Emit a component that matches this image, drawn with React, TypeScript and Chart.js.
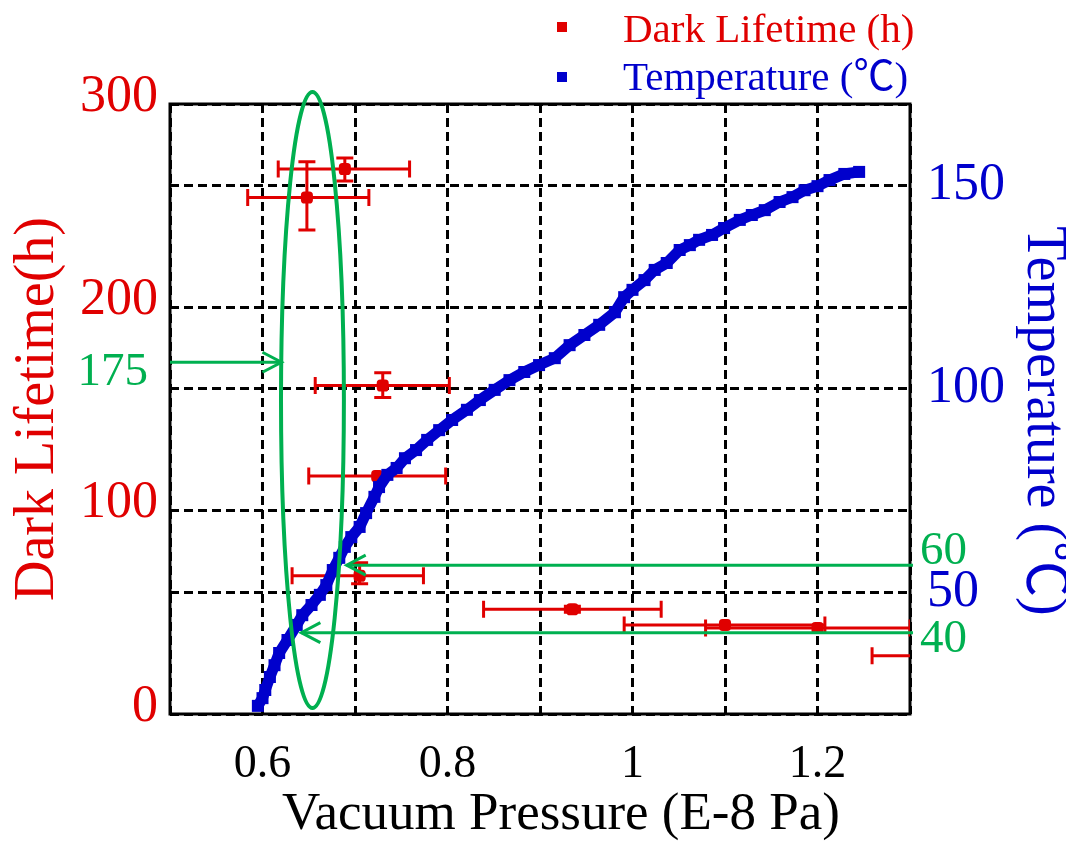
import React, { useEffect, useRef } from 'react';
import { Chart, registerables } from 'chart.js';

Chart.register(...registerables);

const RED = '#e00000';
const BLUE = '#0000cc';
const GREEN = '#00b050';
const FONT = "'Liberation Serif', 'Times New Roman', 'Noto Sans CJK SC', serif";

// ---- Temperature series (pressure in E-8 Pa, temperature in °C) ----
const tempPressure = [
  0.595, 0.600, 0.603, 0.608, 0.613, 0.618, 0.627, 0.637, 0.643, 0.653,
  0.662, 0.669, 0.676, 0.683, 0.689, 0.696, 0.705, 0.712, 0.721, 0.726,
  0.735, 0.745, 0.754, 0.766, 0.778, 0.791, 0.805, 0.821, 0.835, 0.851,
  0.867, 0.883, 0.899, 0.916, 0.932, 0.948, 0.964, 0.981, 0.991, 1.000,
  1.013, 1.024, 1.037, 1.051, 1.062, 1.072, 1.086, 1.099, 1.116, 1.129,
  1.143, 1.159, 1.173, 1.186, 1.200, 1.213, 1.229, 1.245,
];
const tempValues = [
  22.0, 23.9, 25.9, 29.1, 32.0, 35.0, 38.2, 41.9, 44.3, 46.8,
  49.3, 51.7, 55.4, 58.4, 61.1, 63.5, 66.0, 69.4, 73.4, 75.8,
  78.8, 80.5, 82.9, 84.9, 87.4, 89.8, 92.3, 94.8, 97.2, 99.7,
  102.1, 104.1, 105.8, 107.5, 110.7, 113.2, 115.7, 118.8, 122.5, 124.3,
  126.7, 129.2, 130.9, 134.1, 135.3, 136.6, 137.8, 139.5, 141.5, 142.7,
  143.9, 145.9, 147.1, 148.8, 149.8, 151.3, 152.8, 153.3,
];

// ---- Dark lifetime series (hours) with error bars ----
const lifePressure = [0.689, 0.648, 0.730, 0.724, 0.705, 0.935, 1.100, 1.200, 1.370];
const lifeHours = [268, 254, 161.5, 117, 68, 51.5, 43.8, 42.3, 28.7];
const lifePressureLow = [0.617, 0.584, 0.657, 0.650, 0.632, 0.839, 0.991, 1.079, 1.259];
const lifePressureHigh = [0.759, 0.715, 0.802, 0.798, 0.774, 1.031, 1.208, 1.300, 1.480];
const lifeHoursLow = [262.1, 238, 155.7, 117, 64.1, 50.0, 43.8, 42.3, 28.7];
const lifeHoursHigh = [273.4, 271.6, 167.8, 117, 74.4, 53.0, 43.8, 42.3, 28.7];

// ---- Axes ----
const xTicks = [0.5, 0.6, 0.7, 0.8, 0.9, 1.0, 1.1, 1.2, 1.3];
const xTickLabels = [0.6, 0.8, 1.0, 1.2];
const lifeTicks = [0, 100, 200, 300];
const tempTicks = [50, 100, 150];

// ---- Green annotations ----
const ellipseCenter = [0.654, 154.4]; // [pressure, hours]
const ellipseRadius = [0.034, 151.5];
const lifeArrow = { hours: 173, tip: 0.6205, label: '175', labelHours: 167.7 };
const tempArrows = [
  { temp: 56.6, tip: 0.691, label: '60', labelTemp: 60 },
  { temp: 40, tip: 0.642, label: '40', labelTemp: 38.2 },
];

const annotPlugin = {
  id: 'annot',
  beforeDatasetsDraw(chart: any) {
    const { ctx, chartArea: a, scales } = chart;
    const x = scales.x;
    const yL = scales.yL;
    ctx.save();
    ctx.setLineDash([]);
    ctx.strokeStyle = '#000';
    ctx.lineWidth = 3;
    ctx.strokeRect(a.left, a.top, a.right - a.left, a.bottom - a.top);
    ctx.restore();

    ctx.save();
    ctx.beginPath();
    ctx.rect(a.left, a.top, a.right - a.left, a.bottom - a.top);
    ctx.clip();
    ctx.strokeStyle = RED;
    ctx.lineWidth = 3;
    const cap = 8.5;
    for (let i = 0; i < lifePressure.length; i++) {
      const px = x.getPixelForValue(lifePressure[i]);
      const py = yL.getPixelForValue(lifeHours[i]);
      const xl = x.getPixelForValue(lifePressureLow[i]);
      const xh = x.getPixelForValue(lifePressureHigh[i]);
      ctx.beginPath();
      ctx.moveTo(xl, py);
      ctx.lineTo(xh, py);
      ctx.moveTo(xl, py - cap);
      ctx.lineTo(xl, py + cap);
      ctx.moveTo(xh, py - cap);
      ctx.lineTo(xh, py + cap);
      if (lifeHoursLow[i] !== lifeHoursHigh[i]) {
        const yl = yL.getPixelForValue(lifeHoursLow[i]);
        const yh = yL.getPixelForValue(lifeHoursHigh[i]);
        ctx.moveTo(px, yl);
        ctx.lineTo(px, yh);
        ctx.moveTo(px - cap, yl);
        ctx.lineTo(px + cap, yl);
        ctx.moveTo(px - cap, yh);
        ctx.lineTo(px + cap, yh);
      }
      ctx.stroke();
    }
    ctx.restore();
  },
  afterDatasetsDraw(chart: any) {
    const { ctx, chartArea: a, scales } = chart;
    const x = scales.x;
    const yL = scales.yL;
    const yT = scales.yT;
    ctx.save();
    ctx.strokeStyle = GREEN;
    ctx.setLineDash([]);
    const cx = x.getPixelForValue(ellipseCenter[0]);
    const cy = yL.getPixelForValue(ellipseCenter[1]);
    const rx = x.getPixelForValue(ellipseCenter[0] + ellipseRadius[0]) - cx;
    const ry = cy - yL.getPixelForValue(ellipseCenter[1] + ellipseRadius[1]);
    ctx.lineWidth = 4;
    ctx.beginPath();
    ctx.ellipse(cx, cy, rx, ry, 0, 0, Math.PI * 2);
    ctx.stroke();

    ctx.lineWidth = 3;
    const head = (tx: number, ty: number, dir: number) => {
      ctx.beginPath();
      ctx.moveTo(tx - dir * 19, ty - 10);
      ctx.lineTo(tx, ty);
      ctx.lineTo(tx - dir * 19, ty + 10);
      ctx.stroke();
    };
    const ly = yL.getPixelForValue(lifeArrow.hours);
    const ltip = x.getPixelForValue(lifeArrow.tip);
    ctx.beginPath();
    ctx.moveTo(a.left, ly);
    ctx.lineTo(ltip, ly);
    ctx.stroke();
    head(ltip, ly, 1);
    for (const t of tempArrows) {
      const ty = yT.getPixelForValue(t.temp);
      const tip = x.getPixelForValue(t.tip);
      ctx.beginPath();
      ctx.moveTo(a.right + 3, ty);
      ctx.lineTo(tip, ty);
      ctx.stroke();
      head(tip, ty, -1);
    }
    ctx.restore();
  },
  afterDraw(chart: any) {
    const { ctx, chartArea: a, scales } = chart;
    const yL = scales.yL;
    const yT = scales.yT;
    ctx.save();
    ctx.fillStyle = GREEN;
    ctx.font = `47px ${FONT}`;
    ctx.textBaseline = 'middle';
    ctx.textAlign = 'right';
    ctx.fillText(lifeArrow.label, 148, yL.getPixelForValue(lifeArrow.labelHours));
    ctx.textAlign = 'left';
    for (const t of tempArrows) {
      ctx.fillText(t.label, a.right + 10, yT.getPixelForValue(t.labelTemp));
    }

    ctx.textAlign = 'center';
    ctx.textBaseline = 'middle';
    ctx.fillStyle = RED;
    ctx.font = `56px ${FONT}`;
    ctx.save();
    ctx.translate(38, (a.top + a.bottom) / 2);
    ctx.rotate(-Math.PI / 2);
    ctx.fillText('Dark Lifetime(h)', 0, 0);
    ctx.restore();

    ctx.fillStyle = BLUE;
    ctx.save();
    ctx.translate(1043, 421);
    ctx.rotate(Math.PI / 2);
    ctx.fillText('Temperature (\u2103)', 0, 0);
    ctx.restore();

    ctx.fillStyle = '#000';
    ctx.font = `53px ${FONT}`;
    ctx.textBaseline = 'alphabetic';
    ctx.fillText('Vacuum Pressure (E-8 Pa)', 561, 829);

    ctx.font = `41px ${FONT}`;
    ctx.textAlign = 'left';
    ctx.fillStyle = RED;
    ctx.fillRect(557, 22, 10, 10);
    ctx.fillText('Dark Lifetime (h)', 623, 42);
    ctx.fillStyle = BLUE;
    ctx.fillRect(557, 72, 10, 10);
    ctx.fillText('Temperature (\u2103)', 623, 90);
    ctx.restore();
  },
};

export default function App() {
  const ref = useRef<HTMLCanvasElement>(null);
  useEffect(() => {
    document.body.style.margin = '0';
    const canvas = ref.current;
    if (!canvas) return;
    const tempData = tempPressure.map((p, i) => ({ x: p, y: tempValues[i] }));
    const lifeData = lifePressure.map((p, i) => ({ x: p, y: lifeHours[i] }));
    const chart = new Chart(canvas, {
      type: 'scatter',
      data: {
        datasets: [
          {
            label: 'Temperature (\u2103)',
            data: tempData,
            yAxisID: 'yT',
            showLine: true,
            borderColor: BLUE,
            borderWidth: 11,
            backgroundColor: BLUE,
            pointStyle: 'rect',
            pointRadius: 8.5,
            pointBorderWidth: 0,
            pointBackgroundColor: BLUE,
            tension: 0,
          },
          {
            label: 'Dark Lifetime (h)',
            data: lifeData,
            yAxisID: 'yL',
            showLine: false,
            pointStyle: 'rectRounded',
            pointRadius: 7,
            pointBorderWidth: 0,
            pointBackgroundColor: RED,
            backgroundColor: RED,
          },
        ],
      },
      options: {
        animation: false,
        responsive: false,
        devicePixelRatio: 1,
        events: [],
        layout: { padding: { top: 104, left: 0, right: 0, bottom: 0 } },
        plugins: { legend: { display: false }, tooltip: { enabled: false }, title: { display: false } },
        scales: {
          x: {
            type: 'linear',
            min: 0.5,
            max: 1.3,
            afterBuildTicks: (s: any) => {
              s.ticks = xTicks.map((v) => ({ value: v }));
            },
            afterFit: (s: any) => {
              s.height = 140;
            },
            ticks: {
              autoSkip: false,
              maxRotation: 0,
              padding: 23,
              color: '#000',
              font: { family: FONT, size: 46 },
              callback: (v: any) => (xTickLabels.some((t) => Math.abs(t - v) < 1e-9) ? String(Number(v)) : ''),
            },
            grid: { color: '#000', lineWidth: 3, drawTicks: false },
            border: { display: false, dash: [9, 5] },
          },
          yL: {
            type: 'linear',
            position: 'left',
            min: 0,
            max: 300,
            afterBuildTicks: (s: any) => {
              s.ticks = lifeTicks.map((v) => ({ value: v }));
            },
            afterFit: (s: any) => {
              s.width = 170;
            },
            ticks: {
              autoSkip: false,
              padding: 12,
              labelOffset: -7,
              color: RED,
              font: { family: FONT, size: 52 },
            },
            grid: { color: '#000', lineWidth: 3, drawTicks: false },
            border: { display: false, dash: [9, 5] },
          },
          yT: {
            type: 'linear',
            position: 'right',
            min: 20,
            max: 170,
            afterBuildTicks: (s: any) => {
              s.ticks = tempTicks.map((v) => ({ value: v }));
            },
            afterFit: (s: any) => {
              s.width = 156;
            },
            ticks: {
              autoSkip: false,
              padding: 17,
              color: BLUE,
              font: { family: FONT, size: 52 },
            },
            grid: { color: '#000', lineWidth: 3, drawTicks: false, drawOnChartArea: true },
            border: { display: false, dash: [9, 5] },
          },
        },
      },
      plugins: [annotPlugin],
    } as any);
    return () => chart.destroy();
  }, []);
  return (
    <div style={{ width: 1066, height: 854, position: 'relative' }}>
      <canvas ref={ref} width={1066} height={854} style={{ display: 'block' }} />
    </div>
  );
}
